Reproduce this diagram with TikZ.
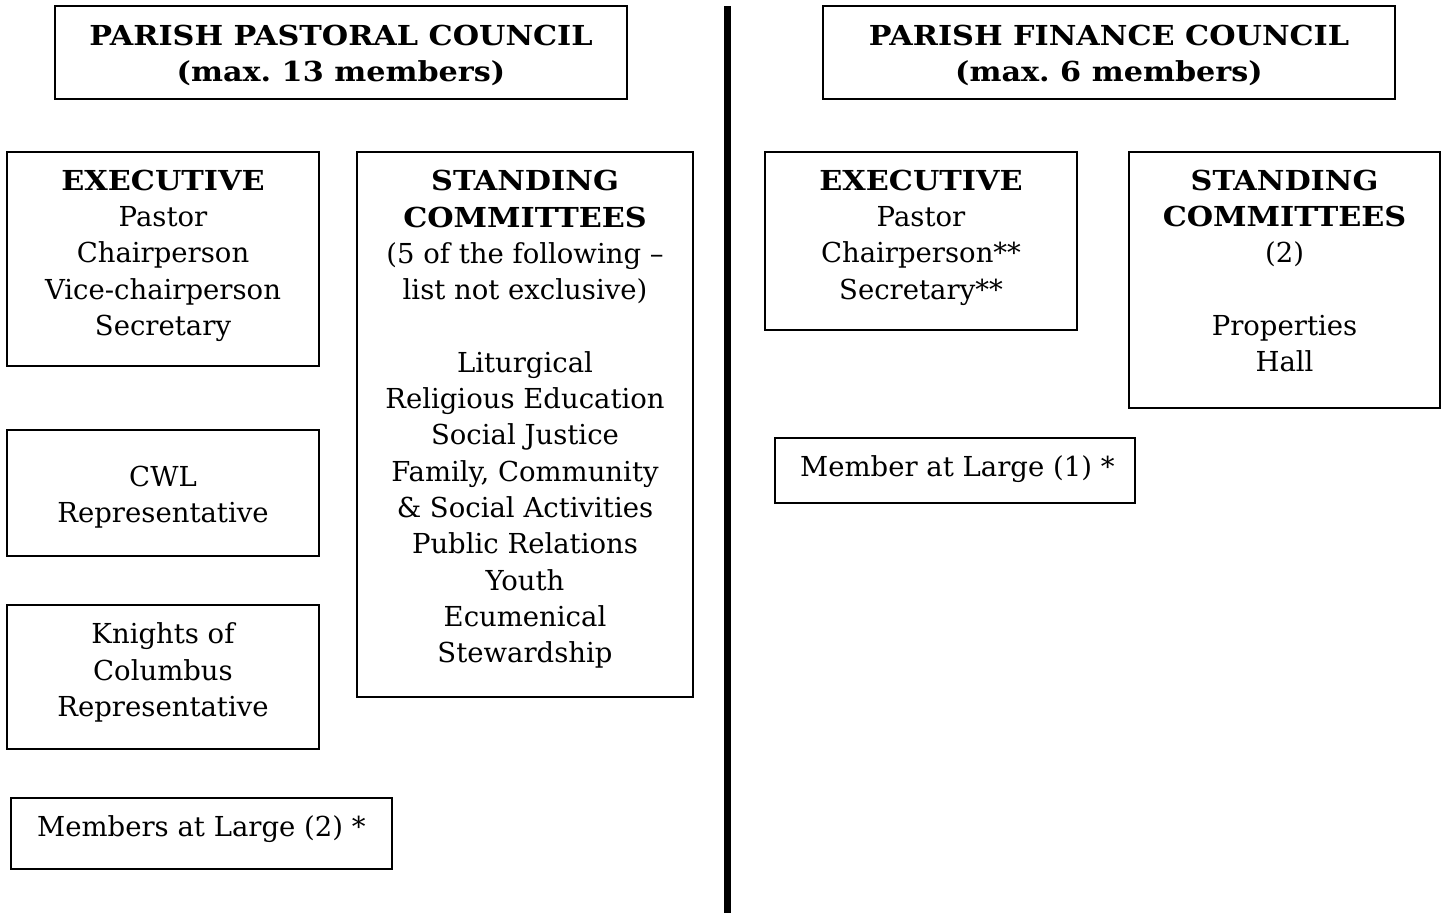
\documentclass[tikz,border=0pt]{standalone}
\usepackage{fontspec}
\setmainfont{DejaVu Serif}[BoldFeatures={FakeStretch=1.10}]
\frenchspacing
\begin{document}
\begin{tikzpicture}[x=1pt,y=-1pt,
  frame/.style={draw, line width=1.6pt, inner sep=0pt},
  txt/.style={align=center, inner sep=0pt, font=\fontsize{27.5}{36.3}\selectfont},
  ltxt/.style={anchor=west, inner sep=0pt, font=\fontsize{27.5}{36.3}\selectfont}]
\useasboundingbox (0,0) rectangle (1445,913);
% top boxes
\node[frame, minimum width=572pt, minimum height=93pt] (ppc) at (341,52.5) {};
\node[txt] (ppct) at (341,56) {\strut\textbf{PARISH PASTORAL COUNCIL}\\\textbf{(max.\ 13 members)}\strut};
\node[frame, minimum width=572pt, minimum height=93pt] (pfc) at (1109,52.5) {};
\node[txt] (pfct) at (1109,56) {\strut\textbf{PARISH FINANCE COUNCIL}\\\textbf{(max.\ 6 members)}\strut};
% divider
\coordinate (dtop) at (727,6);
\coordinate (dbot) at (727,913);
\draw[line width=7pt] (dtop) -- (dbot);
% left column
\node[frame, minimum width=312pt, minimum height=214pt] (exl) at (163,259) {};
\node[txt] (exlt) at (163,255.5) {\strut\textbf{EXECUTIVE}\\Pastor\\Chairperson\\Vice-chairperson\\Secretary\strut};
\node[frame, minimum width=336pt, minimum height=545pt] (stl) at (525,424.5) {};
\node[txt] (stlt) at (525,419.5) {\strut\textbf{STANDING}\\\textbf{COMMITTEES}\\(5 of the following --\\list not exclusive)\\\strut\\Liturgical\\Religious Education\\Social Justice\\Family, Community\\\& Social Activities\\Public Relations\\Youth\\Ecumenical\\Stewardship\strut};
\node[frame, minimum width=312pt, minimum height=126pt] (cwl) at (163,493) {};
\node[txt] (cwlt) at (163,497) {\strut CWL\\Representative\strut};
\node[frame, minimum width=312pt, minimum height=144pt] (koc) at (163,677) {};
\node[txt] (koct) at (163,673) {\strut Knights of\\Columbus\\Representative\strut};
\node[frame, minimum width=381pt, minimum height=71pt] (mal) at (201.5,833.5) {};
\node[ltxt] (malt) at (37,829) {Members at Large (2) *};
% right column
\node[frame, minimum width=312pt, minimum height=178pt] (exr) at (921,241) {};
\node[txt] (exrt) at (921,237.5) {\strut\textbf{EXECUTIVE}\\Pastor\\Chairperson**\\Secretary**\strut};
\node[frame, minimum width=311pt, minimum height=256pt] (str) at (1284.5,280) {};
\node[txt] (strt) at (1284.5,273.5) {\strut\textbf{STANDING}\\\textbf{COMMITTEES}\\(2)\\\strut\\Properties\\Hall\strut};
\node[frame, minimum width=360pt, minimum height=65pt] (mar) at (955,470.5) {};
\node[ltxt] (mart) at (800,469) {Member at Large (1) *};
\end{tikzpicture}
\end{document}
